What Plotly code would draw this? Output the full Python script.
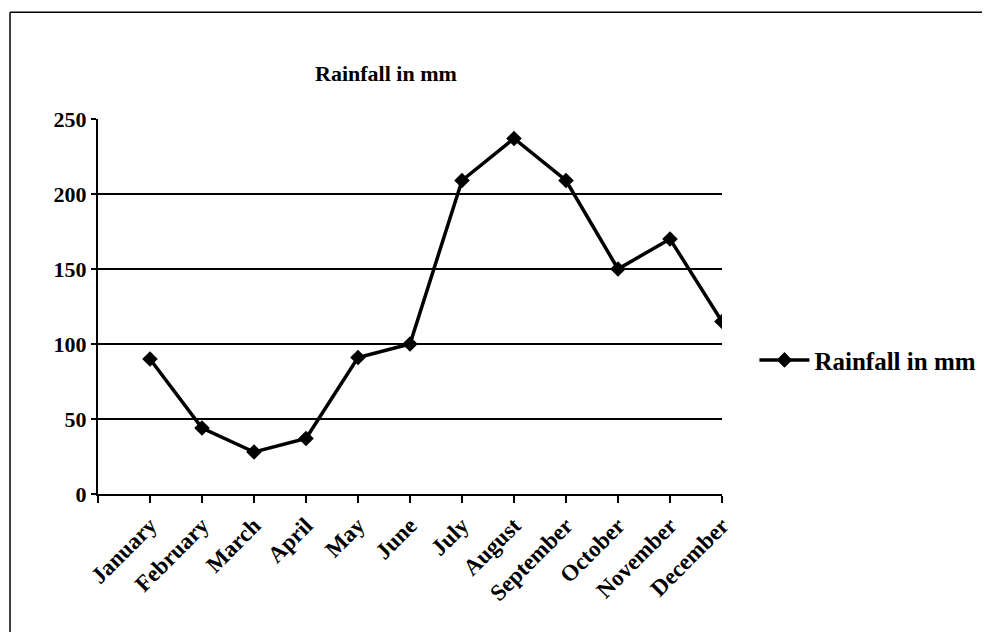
import plotly.graph_objects as go

months = ["January", "February", "March", "April", "May", "June", "July",
          "August", "September", "October", "November", "December"]
rainfall = [90, 44, 28, 37, 91, 100, 209, 237, 209, 150, 170, 115]
y_ticks = [0, 50, 100, 150, 200, 250]
series_name = "Rainfall in mm"
chart_title = "Rainfall in mm"

FONT = "Liberation Serif"
x_idx = list(range(len(months)))

fig = go.Figure()
fig.add_trace(go.Scatter(
    x=x_idx, y=rainfall, mode="lines+markers", name="<b>" + series_name + "</b>",
    line=dict(color="black", width=3.5),
    marker=dict(symbol="diamond", size=12, color="black"),
))

fig.update_layout(
    width=990, height=632,
    margin=dict(l=90, r=276, t=111, b=146, autoexpand=False),
    paper_bgcolor="white", plot_bgcolor="white",
    font=dict(family=FONT, color="black"),
    showlegend=True,
    legend=dict(x=1.052, y=0.357, xanchor="left", yanchor="middle",
                font=dict(family=FONT, size=25, color="black"),
                bgcolor="rgba(0,0,0,0)", itemwidth=50),
    annotations=[dict(text="<b>" + chart_title + "</b>", x=0.4615, y=1.12,
                      xref="paper", yref="paper", showarrow=False,
                      xanchor="center", yanchor="middle",
                      font=dict(family=FONT, size=22, color="black"))],
    shapes=[
        dict(type="line", xref="paper", yref="paper",
             x0=-0.141, x1=1.6, y0=1.285, y1=1.285,
             line=dict(color="black", width=1.5)),
        dict(type="line", xref="paper", yref="paper",
             x0=-0.141, x1=-0.141, y0=1.285, y1=-0.5,
             line=dict(color="black", width=1.5)),
    ],
)

fig.update_xaxes(
    range=[-1, len(months) - 1],
    tickmode="array",
    tickvals=list(range(-1, len(months))),
    ticktext=[""] + ["<b>" + m + "</b>" for m in months],
    tickangle=-45,
    tickfont=dict(family=FONT, size=23, color="black"),
    ticks="outside", ticklen=7, tickcolor="black", tickwidth=1.5,
    showline=True, linecolor="black", linewidth=2,
    showgrid=False, zeroline=False,
)
fig.update_yaxes(
    range=[0, 250],
    tickmode="array",
    tickvals=y_ticks,
    ticktext=["<b>" + str(v) + "</b>" for v in y_ticks],
    tickfont=dict(family=FONT, size=22, color="black"),
    ticks="outside", ticklen=5, tickcolor="black", tickwidth=1.5,
    showline=True, linecolor="black", linewidth=2,
    showgrid=True, gridcolor="black", gridwidth=1.5,
    zeroline=False,
)

fig.write_html("out.html")
